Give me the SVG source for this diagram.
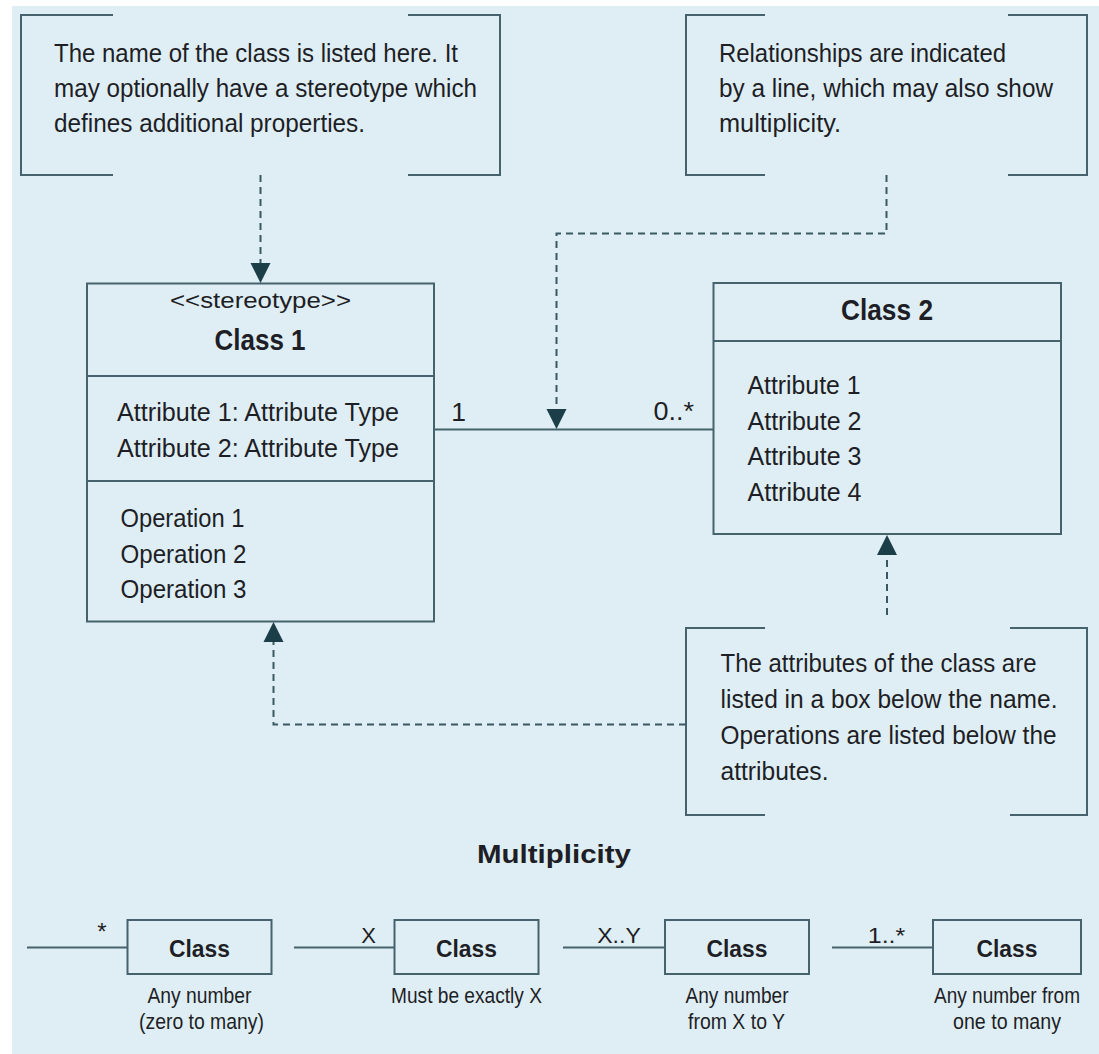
<svg xmlns="http://www.w3.org/2000/svg" width="1099" height="1054" viewBox="0 0 1099 1054">
<style>
.bg{fill:#dfeef4}
.box{fill:none;stroke:#46626c;stroke-width:2}
.br{fill:none;stroke:#46626c;stroke-width:2}
.ln{fill:none;stroke:#46626c;stroke-width:2}
.dash{fill:none;stroke:#3a5862;stroke-width:2;stroke-dasharray:7 5}
.ah{fill:#1c3e48}
text{font-family:"Liberation Sans",Arial,sans-serif;fill:#1e1e26}
.t26{font-size:26.5px}
.t22{font-size:22px}
.t24{font-size:24px}
.b29{font-size:29px;font-weight:bold}
.b26{font-size:26px;font-weight:bold}
.b24{font-size:24px;font-weight:bold}
.mid{text-anchor:middle}
</style>
<rect x="0" y="0" width="1099" height="1054" fill="#ffffff"/>
<rect class="bg" x="12" y="6" width="1087" height="1048"/>

<g id="note-name">
<path class="br" d="M113,15 H21 V175 H113"/>
<path class="br" d="M408,15 H500 V175 H408"/>
<text class="t26" x="54" y="62" textLength="404" lengthAdjust="spacingAndGlyphs">The name of the class is listed here. It</text>
<text class="t26" x="54" y="97" textLength="423" lengthAdjust="spacingAndGlyphs">may optionally have a stereotype which</text>
<text class="t26" x="54" y="132" textLength="311" lengthAdjust="spacingAndGlyphs">defines additional properties.</text>
</g>

<g id="note-relationships">
<path class="br" d="M765,15 H686 V175 H765"/>
<path class="br" d="M1008,15 H1087 V175 H1008"/>
<text class="t26" x="719" y="62" textLength="287" lengthAdjust="spacingAndGlyphs">Relationships are indicated</text>
<text class="t26" x="719" y="97" textLength="334" lengthAdjust="spacingAndGlyphs">by a line, which may also show</text>
<text class="t26" x="719" y="132" textLength="122" lengthAdjust="spacingAndGlyphs">multiplicity.</text>
</g>

<g id="class1">
<rect class="box" x="87" y="283.5" width="347" height="338"/>
<line class="ln" x1="87" y1="376" x2="434" y2="376"/>
<line class="ln" x1="87" y1="481" x2="434" y2="481"/>
<text class="t22 mid" x="260.5" y="308" textLength="181" lengthAdjust="spacingAndGlyphs">&lt;&lt;stereotype&gt;&gt;</text>
<text class="b29 mid" x="260" y="350" textLength="91" lengthAdjust="spacingAndGlyphs">Class 1</text>
<text class="t26" x="117" y="421" textLength="282" lengthAdjust="spacingAndGlyphs">Attribute 1: Attribute Type</text>
<text class="t26" x="117" y="456.5" textLength="282" lengthAdjust="spacingAndGlyphs">Attribute 2: Attribute Type</text>
<text class="t26" x="120.5" y="526.5" textLength="124" lengthAdjust="spacingAndGlyphs">Operation 1</text>
<text class="t26" x="120.5" y="562.5" textLength="126" lengthAdjust="spacingAndGlyphs">Operation 2</text>
<text class="t26" x="120.5" y="598" textLength="126" lengthAdjust="spacingAndGlyphs">Operation 3</text>
</g>

<g id="class2">
<rect class="box" x="713.5" y="283" width="347.5" height="251"/>
<line class="ln" x1="713.5" y1="341" x2="1061" y2="341"/>
<text class="b29 mid" x="887" y="320" textLength="92" lengthAdjust="spacingAndGlyphs">Class 2</text>
<text class="t26" x="747.5" y="393.5" textLength="113" lengthAdjust="spacingAndGlyphs">Attribute 1</text>
<text class="t26" x="747.5" y="429.5" textLength="114" lengthAdjust="spacingAndGlyphs">Attribute 2</text>
<text class="t26" x="747.5" y="465" textLength="114" lengthAdjust="spacingAndGlyphs">Attribute 3</text>
<text class="t26" x="747.5" y="501" textLength="114" lengthAdjust="spacingAndGlyphs">Attribute 4</text>
</g>

<g id="note-attributes">
<path class="br" d="M765,628 H686 V815 H765"/>
<path class="br" d="M1010,628 H1087 V815 H1010"/>
<text class="t26" x="720.5" y="672" textLength="316" lengthAdjust="spacingAndGlyphs">The attributes of the class are</text>
<text class="t26" x="720.5" y="708" textLength="337" lengthAdjust="spacingAndGlyphs">listed in a box below the name.</text>
<text class="t26" x="720.5" y="743.5" textLength="336" lengthAdjust="spacingAndGlyphs">Operations are listed below the</text>
<text class="t26" x="720.5" y="779.5" textLength="108" lengthAdjust="spacingAndGlyphs">attributes.</text>
</g>

<g id="connectors">
<line class="ln" x1="434" y1="429.5" x2="713.5" y2="429.5"/>
<text class="t26 mid" x="458.5" y="420.5">1</text>
<text class="t26" x="653.5" y="420" textLength="40.5" lengthAdjust="spacingAndGlyphs">0..*</text>
<path class="dash" d="M260.5,175 V263"/>
<polygon class="ah" points="250.5,263 270.5,263 260.5,283"/>
<path class="dash" d="M886.5,175 V233.5 H556.5 V409"/>
<polygon class="ah" points="546.5,409 566.5,409 556.5,429"/>
<path class="dash" d="M887,615 V555"/>
<polygon class="ah" points="877,555 897,555 887,535"/>
<path class="dash" d="M686,724.5 H273.5 V642"/>
<polygon class="ah" points="263.5,642 283.5,642 273.5,622"/>
</g>

<g id="multiplicity-title">
<text class="b26 mid" x="554" y="863" textLength="154" lengthAdjust="spacingAndGlyphs">Multiplicity</text>
</g>

<g id="mult-any">
<line class="ln" x1="27" y1="947.5" x2="127.5" y2="947.5"/>
<text class="t24 mid" x="102" y="940">*</text>
<rect class="box" x="127.5" y="920" width="144" height="54"/>
<text class="b24 mid" x="199.5" y="956.5" textLength="61" lengthAdjust="spacingAndGlyphs">Class</text>
<text class="t22 mid" x="199.5" y="1002.5" textLength="104" lengthAdjust="spacingAndGlyphs">Any number</text>
<text class="t22 mid" x="201.5" y="1029" textLength="125" lengthAdjust="spacingAndGlyphs">(zero to many)</text>
</g>

<g id="mult-exact">
<line class="ln" x1="294" y1="947.5" x2="394.5" y2="947.5"/>
<text class="t22 mid" x="368.5" y="943">X</text>
<rect class="box" x="394.5" y="920" width="144" height="54"/>
<text class="b24 mid" x="466.5" y="956.5" textLength="61" lengthAdjust="spacingAndGlyphs">Class</text>
<text class="t22 mid" x="466.5" y="1002.5" textLength="151" lengthAdjust="spacingAndGlyphs">Must be exactly X</text>
</g>

<g id="mult-range">
<line class="ln" x1="563" y1="947.5" x2="665" y2="947.5"/>
<text class="t22 mid" x="619" y="943" textLength="43.5" lengthAdjust="spacingAndGlyphs">X..Y</text>
<rect class="box" x="665" y="920" width="144" height="54"/>
<text class="b24 mid" x="737" y="956.5" textLength="61" lengthAdjust="spacingAndGlyphs">Class</text>
<text class="t22 mid" x="737" y="1002.5" textLength="103" lengthAdjust="spacingAndGlyphs">Any number</text>
<text class="t22 mid" x="736.5" y="1029" textLength="97" lengthAdjust="spacingAndGlyphs">from X to Y</text>
</g>

<g id="mult-onemany">
<line class="ln" x1="832" y1="947.5" x2="933" y2="947.5"/>
<text class="t22 mid" x="886.5" y="943" textLength="37.5" lengthAdjust="spacingAndGlyphs">1..*</text>
<rect class="box" x="933" y="920" width="148" height="54"/>
<text class="b24 mid" x="1007" y="956.5" textLength="61" lengthAdjust="spacingAndGlyphs">Class</text>
<text class="t22 mid" x="1007" y="1002.5" textLength="146" lengthAdjust="spacingAndGlyphs">Any number from</text>
<text class="t22 mid" x="1007" y="1029" textLength="108" lengthAdjust="spacingAndGlyphs">one to many</text>
</g>
</svg>
